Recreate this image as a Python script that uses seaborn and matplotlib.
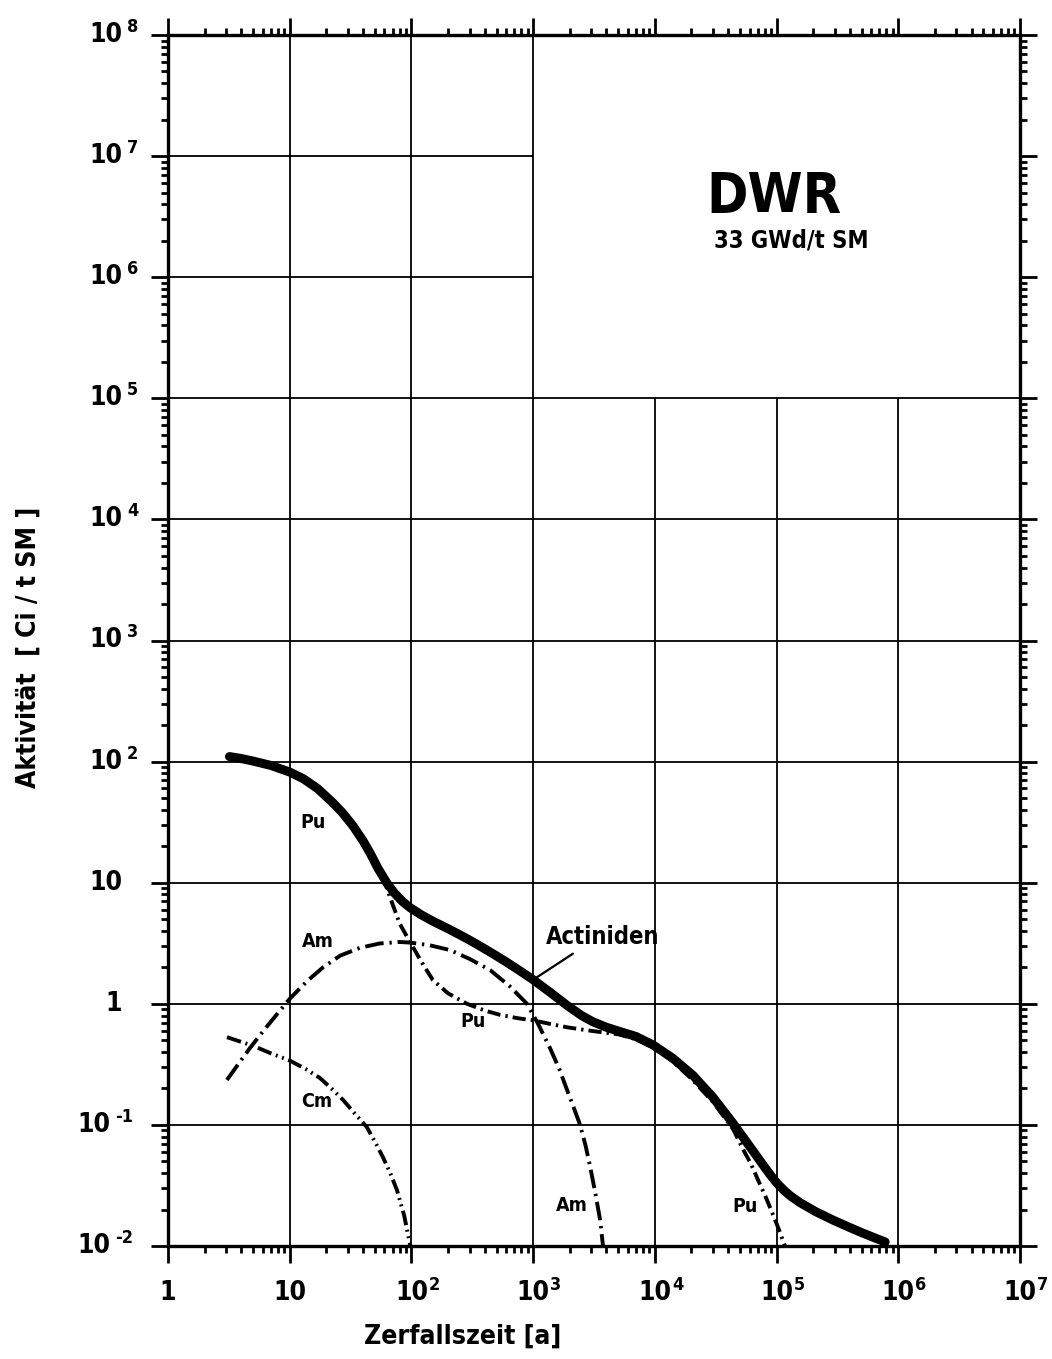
import numpy as np
import pandas as pd
import matplotlib
matplotlib.use("Agg")
import matplotlib.pyplot as plt
import matplotlib.transforms as mtrans
from matplotlib.ticker import LogLocator, NullFormatter, FixedLocator
import seaborn as sns

# Zerfallszeit [a] und Aktivitaet [Ci/t SM] der einzelnen Nuklidgruppen
actiniden_t = [3.2, 4, 5, 7, 10, 13, 17, 22.7, 27, 33, 40, 46, 53, 63, 72, 85, 98,
               120, 150, 200, 250, 320, 387, 480, 600, 780, 1000, 1400, 1900, 2500,
               3100, 4000, 4900, 7000, 9670, 14000, 20600, 30000, 43900, 60000,
               80000, 90000, 1e5, 1.15e5, 1.3e5, 1.56e5, 2.1e5, 2.9e5, 4e5, 5e5,
               6.5e5, 7.8e5]
actiniden_a = [110, 106, 101, 93, 82, 72, 59.7, 45.6, 38, 29.6, 22.2, 17.4, 13.2,
               9.9, 8.28, 6.95, 6.2, 5.44, 4.81, 4.17, 3.71, 3.24, 2.9, 2.55, 2.22,
               1.87, 1.58, 1.23, 0.97, 0.80, 0.71, 0.64, 0.60, 0.537, 0.457, 0.356,
               0.256, 0.169, 0.103, 0.0667, 0.0446, 0.038, 0.0333, 0.0288, 0.0259,
               0.0228, 0.0192, 0.0164, 0.0142, 0.0129, 0.0116, 0.0108]

pu_t = [58, 68, 80, 98, 120, 150, 200, 286, 400, 535, 750, 1000, 1400, 1900, 2600,
        3540, 5000, 7000, 10000, 14000, 20000, 30000, 44000, 53000, 62000, 70500,
        82000, 95000, 105000, 117000]
pu_a = [11.3, 7.2, 4.6, 3.2, 2.25, 1.57, 1.22, 1.0, 0.88, 0.81, 0.76, 0.73, 0.68,
        0.64, 0.61, 0.585, 0.56, 0.51, 0.43, 0.335, 0.24, 0.155, 0.092, 0.063, 0.047,
        0.035, 0.025, 0.0174, 0.0135, 0.01]

am_t = [3.05, 3.8, 4.7, 6.5, 10, 14, 18.8, 26, 37.8, 55, 80, 98, 140, 207, 300, 443,
        640, 890, 1100, 1377, 1650, 1900, 2150, 2430, 2700, 2930, 3250, 3550, 3750]
am_a = [0.235, 0.32, 0.43, 0.65, 1.1, 1.55, 2.0, 2.5, 2.9, 3.15, 3.24, 3.2, 3.05,
        2.78, 2.35, 1.9, 1.4, 1.0, 0.68, 0.43, 0.285, 0.194, 0.14, 0.1, 0.067, 0.046,
        0.027, 0.0164, 0.01]

cm_t = [3.05, 5, 7, 10, 13.5, 17.7, 22, 27.4, 34, 43, 50, 58.4, 67, 76, 87, 98]
cm_a = [0.53, 0.45, 0.39, 0.34, 0.29, 0.244, 0.2, 0.161, 0.125, 0.096, 0.073, 0.054,
        0.04, 0.029, 0.018, 0.01]

x_exponents = [0, 1, 2, 3, 4, 5, 6, 7]
y_exponents = [-2, -1, 0, 1, 2, 3, 4, 5, 6, 7, 8]

sns.set_theme(style="ticks")
plt.rcParams["font.family"] = ["DejaVu Sans"]
plt.rcParams["font.stretch"] = "condensed"
plt.rcParams["font.weight"] = "bold"
plt.rcParams["text.color"] = "black"

fig = plt.figure(figsize=(10.52, 13.59), dpi=100)
ax = fig.add_axes([168 / 1052, 1 - 1246 / 1359, 852 / 1052, 1211 / 1359])
ax.set_xscale("log")
ax.set_yscale("log")
ax.set_xlim(1, 1e7)
ax.set_ylim(1e-2, 1e8)

# Raster, oben rechts ausgespart fuer den Titel
grid_kw = dict(color="black", lw=1.3, zorder=1)
for e in x_exponents[1:-1]:
    top = 1e8 if e <= 3 else 1e5
    ax.vlines(10.0 ** e, 1e-2, top, **grid_kw)
for e in y_exponents[1:-1]:
    right = 1e7 if e <= 5 else 1e3
    ax.hlines(10.0 ** e, 1, right, **grid_kw)

curves = [
    (actiniden_t, actiniden_a, dict(linewidth=6.5, linestyle="-",
                                    solid_capstyle="round", solid_joinstyle="round")),
    (pu_t, pu_a, dict(linewidth=2.8, linestyle=(0, (3.4, 1.3, 0.6, 1.3)))),
    (am_t, am_a, dict(linewidth=2.8, linestyle=(0, (4.8, 1.5, 0.6, 1.5)))),
    (cm_t, cm_a, dict(linewidth=2.8, linestyle=(0, (3.8, 1.2, 0.5, 1.2, 0.5, 1.2)))),
]
for t, a, kw in curves:
    df = pd.DataFrame({"Zerfallszeit": t, "Aktivitaet": a})
    sns.lineplot(data=df, x="Zerfallszeit", y="Aktivitaet", ax=ax, color="black",
                 estimator=None, zorder=3, **kw)

ax.set_xlabel("")
ax.set_ylabel("")

# Achsen und Teilstriche
for s in ax.spines.values():
    s.set_linewidth(2.4)
    s.set_color("black")
ax.xaxis.set_major_locator(FixedLocator([10.0 ** e for e in x_exponents]))
ax.yaxis.set_major_locator(FixedLocator([10.0 ** e for e in y_exponents]))
ax.xaxis.set_minor_locator(LogLocator(base=10, subs=np.arange(2, 10), numticks=100))
ax.yaxis.set_minor_locator(LogLocator(base=10, subs=np.arange(2, 10), numticks=100))
ax.xaxis.set_major_formatter(NullFormatter())
ax.yaxis.set_major_formatter(NullFormatter())
ax.xaxis.set_minor_formatter(NullFormatter())
ax.yaxis.set_minor_formatter(NullFormatter())
ax.tick_params(which="both", direction="out", top=True, right=True, color="black",
               width=2.0)
ax.tick_params(which="major", length=12)
ax.tick_params(which="minor", length=5)

base_fs = 19
exp_fs = 13
px = 72 / 100  # points per pixel

# Beschriftung der x-Achse
xtr = ax.get_xaxis_transform()
for e in x_exponents:
    x = 10.0 ** e
    tr = mtrans.offset_copy(xtr, fig=fig, x=0, y=-47 * px, units="points")
    base = "1" if e == 0 else "10"
    ax.text(x, 0, base, transform=tr, ha="center", va="center", fontsize=base_fs,
            fontweight="bold", clip_on=False)
    if e >= 2:
        tre = mtrans.offset_copy(xtr, fig=fig, x=17 * px, y=-39 * px, units="points")
        ax.text(x, 0, str(e), transform=tre, ha="left", va="center", fontsize=exp_fs,
                fontweight="bold", clip_on=False)

# Beschriftung der y-Achse
ytr = ax.get_yaxis_transform()
for e in y_exponents:
    y = 10.0 ** e
    if e in (0, 1):
        tr = mtrans.offset_copy(ytr, fig=fig, x=-46 * px, y=0, units="points")
        ax.text(0, y, "1" if e == 0 else "10", transform=tr, ha="right", va="center",
                fontsize=base_fs, fontweight="bold", clip_on=False)
    else:
        shift = 0 if e > 0 else 12
        tr = mtrans.offset_copy(ytr, fig=fig, x=(-46 - shift) * px, y=0,
                                units="points")
        ax.text(0, y, "10", transform=tr, ha="right", va="center", fontsize=base_fs,
                fontweight="bold", clip_on=False)
        tre = mtrans.offset_copy(ytr, fig=fig, x=(-41 - shift) * px, y=8 * px,
                                 units="points")
        ax.text(0, y, str(e), transform=tre, ha="left", va="center", fontsize=exp_fs,
                fontweight="bold", clip_on=False)

ax.text(0.346, -0.075, "Zerfallszeit [a]", transform=ax.transAxes, ha="center",
        va="center", fontsize=19, fontweight="bold")
ax.text(-0.164, 0.494, "Aktivität  [ Ci / t SM ]", transform=ax.transAxes,
        ha="center", va="center", rotation=90, fontsize=19, fontweight="bold")

# Titel im ausgesparten Feld
ax.text(0.711, 0.866, "DWR", transform=ax.transAxes, ha="center", va="center",
        fontsize=40, fontweight="bold")
ax.text(0.732, 0.830, "33 GWd/t SM", transform=ax.transAxes, ha="center",
        va="center", fontsize=17, fontweight="bold")

# Kurvenbeschriftungen
lab_kw = dict(ha="center", va="center", fontsize=14, fontweight="bold", zorder=4)
ax.text(15.5, 31.7, "Pu", **lab_kw)
ax.text(17.1, 3.24, "Am", **lab_kw)
ax.text(321, 0.71, "Pu", **lab_kw)
ax.text(16.8, 0.155, "Cm", **lab_kw)
ax.text(2090, 0.0214, "Am", **lab_kw)
ax.text(5.5e4, 0.021, "Pu", **lab_kw)

ax.annotate("Actiniden", xy=(1000, 1.58), xytext=(3750, 3.57), ha="center",
            va="center", fontsize=17, fontweight="bold",
            arrowprops=dict(arrowstyle="-", color="black", lw=1.6, relpos=(0.3, 0.0),
                            shrinkA=2, shrinkB=0))

fig.savefig("out.png", dpi=100)
